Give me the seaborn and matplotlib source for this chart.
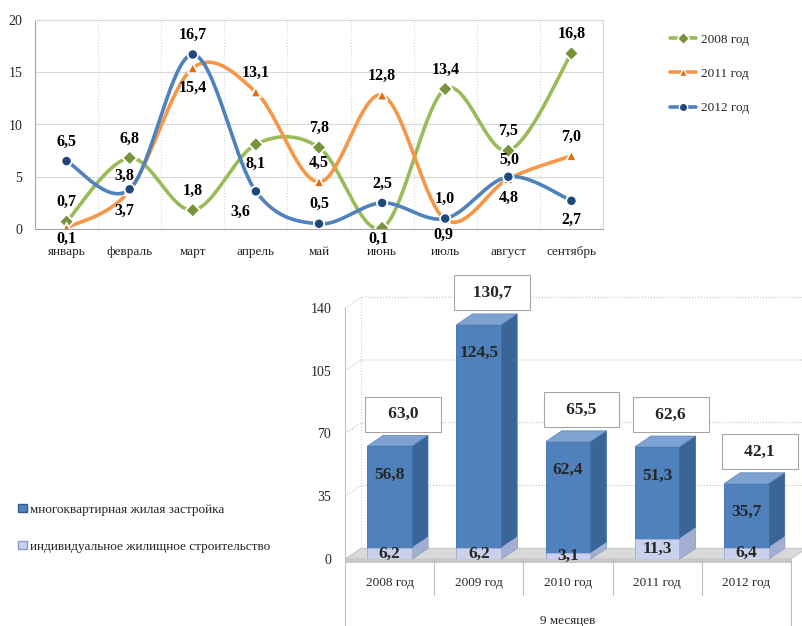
import numpy as np
import pandas as pd
import seaborn as sns
import matplotlib.pyplot as plt
from matplotlib.lines import Line2D
from matplotlib.patches import Patch, Polygon, Rectangle

# top chart data
months = ['январь', 'февраль', 'март', 'апрель', 'май', 'июнь', 'июль', 'август', 'сентябрь']
series_names = ['2008 год', '2011 год', '2012 год']
vals_2008 = [0.7, 6.8, 1.8, 8.1, 7.8, 0.1, 13.4, 7.5, 16.8]
vals_2011 = [0.1, 3.7, 15.4, 13.1, 4.5, 12.8, 0.9, 4.8, 7.0]
vals_2012 = [6.5, 3.8, 16.7, 3.6, 0.5, 2.5, 1.0, 5.0, 2.7]

# bottom chart data
years = ['2008 год', '2009 год', '2010 год', '2011 год', '2012 год']
multi = [56.8, 124.5, 62.4, 51.3, 35.7]
individ = [6.2, 6.2, 3.1, 11.3, 6.4]
totals = [63.0, 130.7, 65.5, 62.6, 42.1]
bar_legend = ['многоквартирная жилая застройка', 'индивидуальное жилищное строительство']
period_label = '9 месяцев'

line_colors = ['#9BBB59', '#F79646', '#4F81BD']
marker_colors = ['#77933C', '#E46C0A', '#1F497D']
markers = ['D', '^', 'o']

# where the value labels sit: a = above, b = below
label_pos = [
    'aaababaaa',
    'bbbaaabba',
    'aaabaaaab',
]
label_fix = {(2, 3): (-11, -15), (2, 1): (-4, 10), (1, 1): (-4, -15),
             (1, 0): (0, -8), (0, 5): (-3, -8), (1, 6): (-1, -11), (2, 7): (1, 12)}


def fmt(v):
    return f'{v:.1f}'.replace('.', ',')


def smooth(ys, n=40):
    # Excel-like smoothed line (cubic bezier, catmull-rom control points)
    pts = np.column_stack([np.arange(len(ys)), ys]).astype(float)
    ext = np.vstack([pts[0], pts, pts[-1]])
    t = np.linspace(0, 1, n)[:, None]
    out = []
    for i in range(len(pts) - 1):
        p0, p1, p2, p3 = ext[i], ext[i + 1], ext[i + 2], ext[i + 3]
        c1 = p1 + (p2 - p0) / 6
        c2 = p2 - (p3 - p1) / 6
        seg = (1 - t) ** 3 * p1 + 3 * (1 - t) ** 2 * t * c1 + 3 * (1 - t) * t ** 2 * c2 + t ** 3 * p2
        out.append(seg if i == 0 else seg[1:])
    return np.vstack(out)


sns.set_style('white')
plt.rcParams['font.family'] = ['Liberation Serif', 'DejaVu Serif']

fig = plt.figure(figsize=(8.03, 6.26), dpi=100)

# ---------------- top: smoothed lines ----------------
ax1 = fig.add_axes([35 / 803, 1 - 229 / 626, (603 - 35) / 803, 209 / 626])
all_vals = [vals_2008, vals_2011, vals_2012]

curve_rows = []
point_rows = []
for name, vals in zip(series_names, all_vals):
    for cx, cy in smooth(vals):
        curve_rows.append({'series': name, 'x': cx, 'y': cy})
    for i, v in enumerate(vals):
        point_rows.append({'series': name, 'x': i, 'y': v})
curves = pd.DataFrame(curve_rows)
points = pd.DataFrame(point_rows)

pal_mark = dict(zip(series_names, marker_colors))
for j, name in enumerate(series_names):
    sns.lineplot(data=curves[curves.series == name], x='x', y='y', sort=False, estimator=None,
                 color=line_colors[j], lw=2.6, ax=ax1, legend=False, zorder=2 + j)
sns.scatterplot(data=points, x='x', y='y', hue='series', style='series', palette=pal_mark,
                markers=dict(zip(series_names, markers)), s=55, edgecolor='white', linewidth=1.3,
                ax=ax1, legend=False, zorder=6)

for j, vals in enumerate(all_vals):
    for i, v in enumerate(vals):
        off = label_fix.get((j, i), (0, 14) if label_pos[j][i] == 'a' else (0, -14))
        ax1.annotate(fmt(v), (i, v), xytext=off, textcoords='offset points', ha='center', va='center',
                     fontsize=11.5, fontweight='bold', color='black', zorder=10)

ax1.set_xlim(-0.5, 8.5)
ax1.set_ylim(0, 20)
ax1.set_yticks([0, 5, 10, 15, 20])
ax1.set_xticks(np.arange(-0.5, 9, 1))
ax1.set_xticklabels([])
ax1.set_xticks(range(9), minor=True)
ax1.set_xticklabels(months, minor=True)
ax1.tick_params(axis='x', which='major', length=4, color='#A6A6A6')
ax1.tick_params(axis='x', which='minor', length=0, pad=12.5, labelsize=9.5)
ax1.tick_params(axis='y', length=4, color='#A6A6A6', pad=5, labelsize=10)
ax1.grid(axis='y', color='#D9D9D9', lw=0.8)
ax1.grid(axis='x', which='major', color='#D9D9D9', lw=0.8, ls=':')
ax1.set_xlabel('')
ax1.set_ylabel('')
for s in ['top', 'right']:
    ax1.spines[s].set_color('#D9D9D9')
for s in ['left', 'bottom']:
    ax1.spines[s].set_color('#A6A6A6')

handles = [Line2D([0], [0], color=line_colors[j], lw=2.6, marker=markers[j], markerfacecolor=marker_colors[j],
                  markeredgecolor='white', markeredgewidth=1.0, markersize=6) for j in range(3)]
fig.legend(handles, series_names, loc='upper left', bbox_to_anchor=(658 / 803, 1 - 22 / 626), frameon=False,
           fontsize=9.5, handlelength=2.0, labelspacing=1.65, handletextpad=0.35)

# ---------------- bottom: 3D-looking stacked bars ----------------
ax2 = fig.add_axes([345 / 803, 1 - 559 / 626, (791 - 345) / 803, 251 / 626])
blue = '#4F81BD'
lav = '#C9D1EC'
sns.barplot(x=years, y=totals, color=blue, saturation=1, width=0.5, ax=ax2, zorder=3)
sns.barplot(x=years, y=individ, color=lav, saturation=1, width=0.5, ax=ax2, zorder=3.2)

dx, dy = 0.18, 6.0
bars = ax2.patches[:5]
lows = ax2.patches[5:10]
for p in bars:
    p.set_edgecolor('#3F6FA8')
    p.set_linewidth(0.6)
    x0, w, h = p.get_x(), p.get_width(), p.get_height()
    x1 = x0 + w
    ax2.add_patch(Polygon([(x1, 0), (x1 + dx, dy), (x1 + dx, h + dy), (x1, h)], closed=True,
                          fc='#3A6597', ec='#3A6597', lw=0.5, zorder=2.5, clip_on=False))
    ax2.add_patch(Polygon([(x0, h), (x0 + dx, h + dy), (x1 + dx, h + dy), (x1, h)], closed=True,
                          fc='#7EA2D2', ec='#5C86BA', lw=0.5, zorder=2.6, clip_on=False))
for p in lows:
    p.set_edgecolor('#A8B3D6')
    p.set_linewidth(0.6)
    x0, w, h = p.get_x(), p.get_width(), p.get_height()
    x1 = x0 + w
    ax2.add_patch(Polygon([(x1, 0), (x1 + dx, dy), (x1 + dx, h + dy), (x1, h)], closed=True,
                          fc='#A3AED3', ec='#A3AED3', lw=0.5, zorder=2.7, clip_on=False))

# floor and back wall
ax2.add_patch(Polygon([(-0.5, 0), (4.5, 0), (4.5 + dx, dy), (-0.5 + dx, dy)], closed=True,
                      fc='#D9D9D9', ec='#BFBFBF', lw=0.6, zorder=1, clip_on=False))
ax2.add_patch(Rectangle((-0.5, -2), 5, 2, fc='#C8C8C8', ec='none', zorder=1, clip_on=False))
for v in [35, 70, 105, 140]:
    ax2.plot([-0.5, -0.5 + dx, 4.5 + 2 * dx], [v, v + dy, v + dy], color='#BFBFBF', lw=0.8, ls=':',
             zorder=0.5, clip_on=False)
ax2.plot([-0.5 + dx, -0.5 + dx], [dy, 140 + dy], color='#D0D0D0', lw=0.8, ls=':', zorder=0.5, clip_on=False)

for i in range(5):
    s = fmt(totals[i])
    pad = ' ' * (3 if len(s) <= 4 else 2)
    ax2.annotate(pad + s + pad, (i + 0.15, totals[i]), xytext=(0, 23), textcoords='offset points',
                 ha='center', va='center', fontsize=12.5, fontweight='bold', zorder=10,
                 annotation_clip=False,
                 bbox=dict(boxstyle='square,pad=0.55', fc='white', ec='#A6A6A6', lw=0.8))
    ax2.text(i, totals[i] - 16, fmt(multi[i]), ha='center', va='center', fontsize=12.5,
             fontweight='bold', zorder=10)
    ax2.text(i, individ[i] / 2, fmt(individ[i]), ha='center', va='center', fontsize=12.5,
             fontweight='bold', zorder=10)

ax2.set_xlim(-0.5, 4.5)
ax2.set_ylim(0, 140)
ax2.set_yticks([0, 35, 70, 105, 140])
ax2.tick_params(axis='y', length=4, color='#A6A6A6', pad=6, labelsize=10)
ax2.tick_params(axis='x', length=0, labelbottom=False)
ax2.set_xlabel('')
ax2.set_ylabel('')
for s in ['top', 'right', 'bottom']:
    ax2.spines[s].set_visible(False)
ax2.spines['left'].set_color('#BFBFBF')

# two-level category axis
tr = ax2.get_xaxis_transform()
for b in np.arange(-0.5, 5, 1):
    low = -0.27 if b in (-0.5, 4.5) else -0.143
    ax2.plot([b, b], [0, low], color='#BFBFBF', lw=0.8, transform=tr, clip_on=False)
for i, yl in enumerate(years):
    ax2.text(i, -0.095, yl, ha='center', va='center', fontsize=9.5, transform=tr)
ax2.text(2, -0.248, period_label, ha='center', va='center', fontsize=9.5, transform=tr)

fig.legend([Patch(fc=blue, ec='#385D8A'), Patch(fc=lav, ec='#8C9BC4')], bar_legend, loc='upper left',
           bbox_to_anchor=(6 / 803, 1 - 492 / 626), frameon=False, fontsize=9.5, handlelength=0.7,
           handleheight=0.55, handletextpad=0.2, labelspacing=1.9)

fig.savefig('out.png', dpi=100)
